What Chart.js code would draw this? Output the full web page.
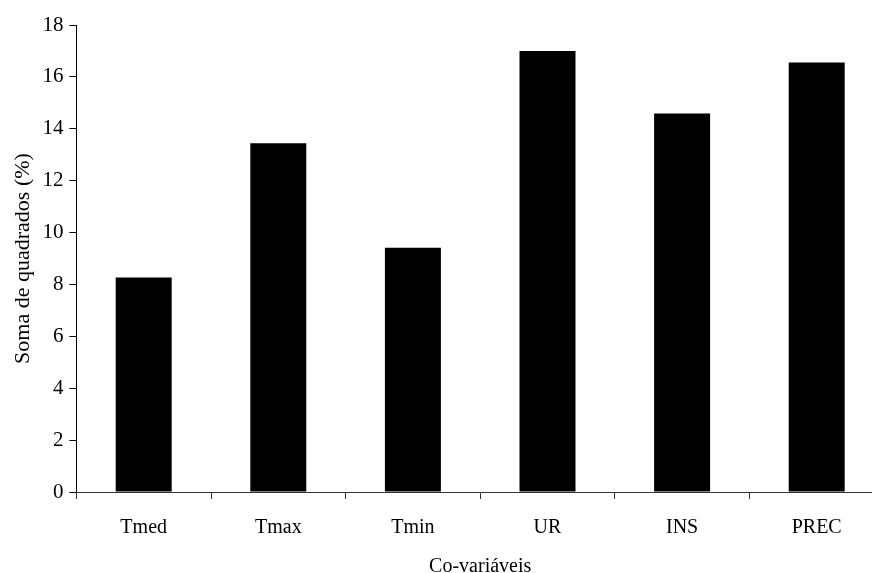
<!DOCTYPE html>
<html>
<head>
<meta charset="utf-8">
<script src="https://cdn.jsdelivr.net/npm/chart.js@4.4.1/dist/chart.umd.min.js"></script>
<style>
  html, body { margin: 0; padding: 0; background: #fff; overflow: hidden; }
  #wrap { width: 884px; height: 573px; position: relative; }
</style>
</head>
<body>
<div id="wrap"><canvas id="myChart"></canvas></div>
<script>
// data
const categorias = ['Tmed', 'Tmax', 'Tmin', 'UR', 'INS', 'PREC'];
const somaQuadrados = [8.27, 13.44, 9.41, 17.0, 14.59, 16.55];
const yMin = 0;
const yMax = 18;
const yPasso = 2;

const fonte = "'Liberation Serif', 'Times New Roman', serif";
const ctx = document.getElementById('myChart');

// the original plot runs a few px past the right edge, so the canvas is a bit wider than the window
new Chart(ctx, {
  type: 'bar',
  data: {
    labels: categorias,
    datasets: [{
      label: 'Soma de quadrados (%)',
      data: somaQuadrados,
      backgroundColor: '#000000',
      borderWidth: 0,
      categoryPercentage: 1.0,
      barPercentage: 0.416
    }]
  },
  options: {
    responsive: true,
    maintainAspectRatio: false,
    animation: false,
    layout: { padding: { top: 25, left: 10, right: 0, bottom: 0 } },
    plugins: {
      legend: { display: false },
      tooltip: { enabled: false }
    },
    scales: {
      x: {
        grid: { display: true, drawOnChartArea: false, drawTicks: true, tickLength: 7, color: '#333', offset: true },
        border: { display: true, color: '#333', width: 1 },
        ticks: { color: '#000', font: { family: fonte, size: 20 }, padding: 17, maxRotation: 0 },
        title: { display: true, text: 'Co-variáveis', color: '#000', font: { family: fonte, size: 20, lineHeight: 0.6 }, padding: { top: 4, bottom: 0 } }
      },
      y: {
        min: yMin,
        max: yMax,
        grid: { display: true, drawOnChartArea: false, drawTicks: true, tickLength: 7, color: '#000' },
        border: { display: true, color: '#000', width: 1 },
        ticks: { stepSize: yPasso, color: '#000', font: { family: fonte, size: 21 }, padding: 6 },
        title: { display: true, text: 'Soma de quadrados (%)', color: '#000', font: { family: fonte, size: 22 }, padding: { top: 0, bottom: 0 } }
      }
    }
  }
});
</script>
</body>
</html>
